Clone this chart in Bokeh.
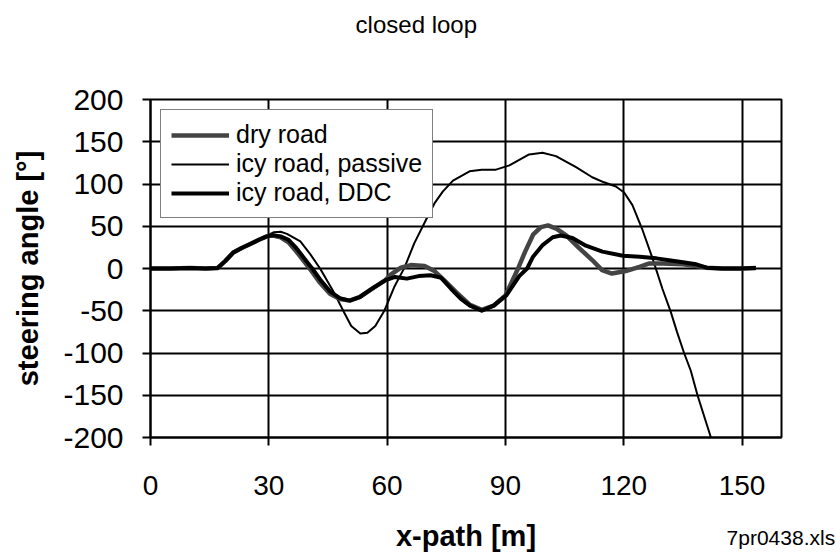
from bokeh.plotting import figure
from bokeh.models import Range1d, Legend, LegendItem, Label, FixedTicker
from bokeh.embed import file_html
from bokeh.resources import INLINE

# ---- texts ----
title_text = "closed loop"
x_label = "x-path [m]"
y_label = "steering angle [°]"
file_note = "7pr0438.xls"
series_names = ["dry road", "icy road, passive", "icy road, DDC"]

# ---- ticks ----
x_ticks = [0, 30, 60, 90, 120, 150]
y_ticks = [-200, -150, -100, -50, 0, 50, 100, 150, 200]

# ---- data ----
dry_x = [0, 5, 10, 14, 17, 19, 21, 23, 25.3, 27.5, 29.5, 31, 33, 35, 37, 39, 41, 43, 45.5, 48,
         50.5, 53, 56.5, 59.5, 61, 63.5, 66, 69.5, 72, 74.5, 77.5, 81, 84, 87, 90, 91.5, 93.2, 95, 97, 99,
         100.8, 103, 105.5, 108.5, 112, 114.5, 117, 120.5, 124, 126.5, 130, 135, 138.5, 141, 145, 150, 153.5]
dry_y = [0, 0, 0.5, 0, 0.5, 9, 19, 24, 29, 34, 38, 39, 37, 31, 20, 8, -4, -17, -30, -36,
         -38, -34, -23, -14, -7, 1, 4, 3, -3, -14, -28, -43, -49, -44, -32, -17, 0, 20, 40, 49,
         51, 47, 39, 25, 10, -2, -6, -3, 2, 6, 6, 5, 3, 1, 0, 0, 0.5]

passive_x = [0, 5, 10, 14, 17, 19, 21, 23, 25.3, 27.5, 29.5, 31.3, 33, 34.6, 38, 40.5, 43, 46.7, 49.2, 50.9,
             53.2, 55, 57, 59.3, 61.8, 64.4, 66.9, 69.9, 72, 74.1, 76.7, 80.9, 84, 87.6, 91, 96, 99.4, 102.8,
             107.9, 112, 115, 118, 120.1, 122.2, 124.8, 127.3, 129.8, 131.9, 133.5, 135.3, 137, 138.7, 142.1]
passive_y = [0, 0, 0.5, 0, 0.5, 9, 19, 24, 29, 34, 39, 43, 43.5, 41, 32, 17, 0, -30, -53, -68,
             -77, -76, -68, -50, -22, 1, 30, 58, 77, 91, 104, 115, 117, 117, 122, 135, 137, 133,
             120, 108, 102, 97, 90, 75, 45, 12, -24, -51, -75, -100, -121, -150, -200]

ddc_x = [0, 5, 10, 14, 17, 19, 21, 23, 25.3, 27.5, 29.5, 31, 33, 35, 37, 39, 41, 43, 45.5, 48,
         50.5, 53, 56.5, 59.5, 62, 65, 68, 71, 73.7, 76.2, 78.7, 81, 84, 87, 90.2, 93.5, 95.5, 97, 99.5, 102,
         104, 107, 110.4, 114.6, 119.8, 124, 128.3, 133.3, 138.4, 141, 145, 149.4, 153.5]
ddc_y = [0, 0, 0.5, 0, 0.5, 9, 19, 24, 29, 34, 38, 39.5, 38, 34, 24, 12, 0, -13, -27, -35,
         -38, -34, -23, -14, -10, -12, -9, -8, -11, -24, -36, -44, -50, -44, -32, -9, 0, 14, 28, 37,
         39, 36, 27, 20, 15, 14, 12, 8.5, 5, 1, 0, 0, 0.5]

FONT = "Liberation Sans"

p = figure(width=836, height=554, output_backend="svg", toolbar_location=None,
           x_range=Range1d(0, 160), y_range=Range1d(-200, 200),
           min_border_left=150, min_border_right=55, min_border_top=99, min_border_bottom=116)
p.title.visible = False
p.background_fill_color = "white"
p.border_fill_color = "white"
p.outline_line_color = "black"
p.outline_line_width = 2

p.xaxis.ticker = FixedTicker(ticks=x_ticks)
p.yaxis.ticker = FixedTicker(ticks=y_ticks)
p.yaxis.major_label_overrides = {t: str(t) for t in y_ticks}
p.xaxis.major_label_overrides = {t: str(t) for t in x_ticks}
p.grid.grid_line_color = "black"
p.grid.grid_line_width = 2
p.grid.grid_line_alpha = 1

for ax in (p.xaxis[0], p.yaxis[0]):
    ax.axis_line_color = "black"
    ax.axis_line_width = 2
    ax.major_tick_line_color = "black"
    ax.major_tick_line_width = 2
    ax.major_tick_in = 0
    ax.major_tick_out = 8
    ax.minor_tick_line_color = None
    ax.major_label_text_font = FONT
    ax.major_label_text_color = "black"
    ax.axis_label_text_font = FONT
    ax.axis_label_text_font_style = "bold"
    ax.axis_label_text_color = "black"
    ax.axis_label_text_font_size = "29px"

p.xaxis.major_label_text_font_size = "28px"
p.yaxis.major_label_text_font_size = "30px"
p.xaxis.major_label_standoff = 30
p.yaxis.major_label_standoff = 19
p.xaxis.axis_label = x_label
p.yaxis.axis_label = y_label
p.xaxis.axis_label_standoff = 22
p.yaxis.axis_label_standoff = 16

r_passive = p.line(passive_x, passive_y, line_color="black", line_width=2, line_join="round")
r_dry = p.line(dry_x, dry_y, line_color="#444444", line_width=4.5, line_join="round")
r_ddc = p.line(ddc_x, ddc_y, line_color="black", line_width=4, line_join="round")

legend = Legend(items=[LegendItem(label=series_names[0], renderers=[r_dry]),
                       LegendItem(label=series_names[1], renderers=[r_passive]),
                       LegendItem(label=series_names[2], renderers=[r_ddc])],
                location="top_left")
legend.label_text_font = FONT
legend.label_text_font_size = "25px"
legend.label_text_color = "black"
legend.glyph_width = 58
legend.glyph_height = 20
legend.label_standoff = 7
legend.spacing = 0
legend.padding = 10
legend.margin = 10
legend.border_line_color = "black"
legend.border_line_width = 1.5
legend.background_fill_color = "white"
legend.background_fill_alpha = 1
p.add_layout(legend)

# texts outside the plot frame: placed in the (roomy) top panel so they are not clipped
p.add_layout(Label(x=67.4, y=288.5, text=title_text, text_align="center", text_baseline="middle",
                   text_font=FONT, text_font_size="24px", text_color="black"), "above")
p.add_layout(Label(x=173.6, y=-318, text=file_note, text_align="right", text_baseline="middle",
                   text_font=FONT, text_font_size="21px", text_color="black"), "above")

open("out.html", "w").write(file_html(p, INLINE))
